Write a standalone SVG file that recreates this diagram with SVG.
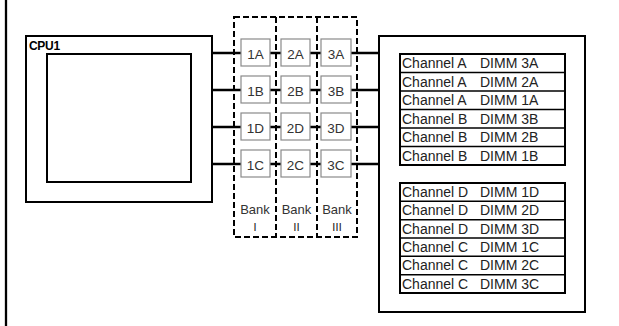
<svg xmlns="http://www.w3.org/2000/svg" width="619" height="326" viewBox="0 0 619 326">
<style>
.box{fill:#fff;stroke:#000;stroke-width:2}
.conn{stroke:#000;stroke-width:2.5;fill:none}
.bank{fill:none;stroke:#000;stroke-width:2;stroke-dasharray:6,3}
.dimm{fill:#fff;stroke:#8a8a8a;stroke-width:1.2}
.dl{font-family:"Liberation Sans",Arial,sans-serif;font-size:13.5px;fill:#333;text-anchor:middle}
.bl{font-family:"Liberation Sans",Arial,sans-serif;font-size:13px;fill:#333;text-anchor:middle}
.rn{font-family:"Noto Sans CJK JP","DejaVu Serif",serif;font-size:11px;fill:#222;text-anchor:middle}
.ch{font-family:"Liberation Sans",Arial,sans-serif;font-size:14px;fill:#222}
.row{stroke:#000;stroke-width:1.5}
</style>
<rect width="619" height="326" fill="#fff"/>
<line x1="6" y1="0" x2="6" y2="326" stroke="#000" stroke-width="2.3"/>

<g id="cpu1">
<rect class="box" x="26" y="36" width="186" height="166"/>
<rect class="box" x="47" y="54" width="144" height="128"/>
<text x="29" y="49.5" font-family="Liberation Sans,Arial,sans-serif" font-size="12" font-weight="bold" letter-spacing="-0.3">CPU1</text>
</g>

<g id="banks">
<rect class="bank" x="234" y="17" width="123" height="220"/>
<line class="bank" x1="276" y1="17" x2="276" y2="237"/>
<line class="bank" x1="317" y1="17" x2="317" y2="237"/>
<text class="bl" x="255" y="214">Bank</text>
<text class="bl" x="296.5" y="214">Bank</text>
<text class="bl" x="337" y="214">Bank</text>
<text class="rn" x="255" y="231">Ⅰ</text>
<text class="rn" x="296.5" y="231">Ⅱ</text>
<text class="rn" x="337" y="231">Ⅲ</text>
</g>

<g id="connectors">
<line class="conn" x1="212" y1="53" x2="379" y2="53"/>
<line class="conn" x1="212" y1="90" x2="379" y2="90"/>
<line class="conn" x1="212" y1="127" x2="379" y2="127"/>
<line class="conn" x1="212" y1="164" x2="379" y2="164"/>
</g>

<g id="dimm-slots">
<g id="s1A"><rect class="dimm" x="241" y="39" width="29" height="27"/><text class="dl" x="255.5" y="58.5">1A</text></g>
<g id="s2A"><rect class="dimm" x="281" y="39" width="29" height="27"/><text class="dl" x="295.5" y="58.5">2A</text></g>
<g id="s3A"><rect class="dimm" x="321" y="39" width="30" height="27"/><text class="dl" x="336" y="58.5">3A</text></g>
<g id="s1B"><rect class="dimm" x="241" y="76" width="29" height="27"/><text class="dl" x="255.5" y="95.5">1B</text></g>
<g id="s2B"><rect class="dimm" x="281" y="76" width="29" height="27"/><text class="dl" x="295.5" y="95.5">2B</text></g>
<g id="s3B"><rect class="dimm" x="321" y="76" width="30" height="27"/><text class="dl" x="336" y="95.5">3B</text></g>
<g id="s1D"><rect class="dimm" x="241" y="113" width="29" height="27"/><text class="dl" x="255.5" y="132.5">1D</text></g>
<g id="s2D"><rect class="dimm" x="281" y="113" width="29" height="27"/><text class="dl" x="295.5" y="132.5">2D</text></g>
<g id="s3D"><rect class="dimm" x="321" y="113" width="30" height="27"/><text class="dl" x="336" y="132.5">3D</text></g>
<g id="s1C"><rect class="dimm" x="241" y="150" width="29" height="27"/><text class="dl" x="255.5" y="169.5">1C</text></g>
<g id="s2C"><rect class="dimm" x="281" y="150" width="29" height="27"/><text class="dl" x="295.5" y="169.5">2C</text></g>
<g id="s3C"><rect class="dimm" x="321" y="150" width="30" height="27"/><text class="dl" x="336" y="169.5">3C</text></g>
</g>

<g id="memory">
<rect class="box" x="379" y="36" width="206" height="276"/>
<g id="tableAB">
<rect class="box" x="400" y="54" width="165" height="111"/>
<line class="row" x1="400" y1="72.5" x2="565" y2="72.5"/>
<line class="row" x1="400" y1="91" x2="565" y2="91"/>
<line class="row" x1="400" y1="109.5" x2="565" y2="109.5"/>
<line class="row" x1="400" y1="128" x2="565" y2="128"/>
<line class="row" x1="400" y1="146.5" x2="565" y2="146.5"/>
<text class="ch" x="402" y="68">Channel A<tspan x="480">DIMM 3A</tspan></text>
<text class="ch" x="402" y="86.5">Channel A<tspan x="480">DIMM 2A</tspan></text>
<text class="ch" x="402" y="105">Channel A<tspan x="480">DIMM 1A</tspan></text>
<text class="ch" x="402" y="123.5">Channel B<tspan x="480">DIMM 3B</tspan></text>
<text class="ch" x="402" y="142">Channel B<tspan x="480">DIMM 2B</tspan></text>
<text class="ch" x="402" y="160.5">Channel B<tspan x="480">DIMM 1B</tspan></text>
</g>
<g id="tableDC">
<rect class="box" x="400" y="183" width="165" height="110"/>
<line class="row" x1="400" y1="201.3" x2="565" y2="201.3"/>
<line class="row" x1="400" y1="219.7" x2="565" y2="219.7"/>
<line class="row" x1="400" y1="238" x2="565" y2="238"/>
<line class="row" x1="400" y1="256.3" x2="565" y2="256.3"/>
<line class="row" x1="400" y1="274.7" x2="565" y2="274.7"/>
<text class="ch" x="402" y="197">Channel D<tspan x="480">DIMM 1D</tspan></text>
<text class="ch" x="402" y="215.3">Channel D<tspan x="480">DIMM 2D</tspan></text>
<text class="ch" x="402" y="233.7">Channel D<tspan x="480">DIMM 3D</tspan></text>
<text class="ch" x="402" y="252">Channel C<tspan x="480">DIMM 1C</tspan></text>
<text class="ch" x="402" y="270.3">Channel C<tspan x="480">DIMM 2C</tspan></text>
<text class="ch" x="402" y="288.7">Channel C<tspan x="480">DIMM 3C</tspan></text>
</g>
</g>
</svg>
